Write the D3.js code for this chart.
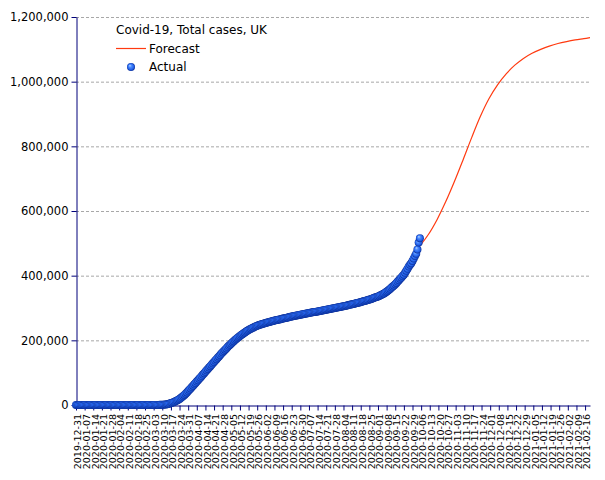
<!DOCTYPE html>
<html>
<head>
<meta charset="utf-8">
<script src="https://cdn.jsdelivr.net/npm/d3@7"></script>
<style>
  html, body { margin: 0; padding: 0; background: #fff; }
  svg { display: block; font-family: "DejaVu Sans", sans-serif; }
</style>
</head>
<body>
<svg id="chart" width="605" height="480"></svg>
<script>
// ---------------- DATA ----------------
const chartTitle = "Covid-19, Total cases, UK";
const seriesNames = ["Forecast", "Actual"];
const actualStart = "2019-12-31";
// Daily cumulative cases, from 2019-12-31 to 2020-10-05
const actualJanDec = [0, // 2019-12-31
  0,0,0,0,0,0,0,0,0,0, 0,0,0,0,0,0,0,0,0,0, 0,0,0,0,0,0,0,0,0,0, 2];   // Jan
const actualFeb = [2,2,2,2,2,2,2,3,3,8, 8,9,9,9,9,9,9,9,9,9, 9,9,9,13,13,15,16,19,23];
const actualMar = [40,55,80,120,170,240,320,420,560,750, 1000,1400,1900,2600,3400,4400,6000,7200,8600,10200,
  12000,14000,16300,18800,21500,24500,27800,31300,35000,39000, 43000];
const actualApr = [47000,51200,55500,59800,64000,68200,72400,76600,80800,85000,
  89500,94000,98500,103000,107300,111600,115900,120200,124500,128800,
  133100,137400,141700,146000,150300,154600,158900,163100,167200,171200];
const actualMay = [175100,179000,182900,186700,190400,194000,197500,200900,204200,207400,
  210500,213500,216400,219200,221900,224500,227000,229400,231700,233900,
  236000,238000,239900,241700,243400,245000,246500,247900,249200,250400, 251500];
const actualJun = [252600,253700,254800,255900,257000,258000,259000,260000,261000,261900,
  262800,263700,264600,265500,266400,267300,268200,269100,270000,270900,
  271800,272700,273600,274500,275400,276200,277000,277800,278600,279400];
const actualJul = [280200,281000,281700,282400,283100,283800,284500,285200,285900,286600,
  287300,288000,288700,289400,290100,290800,291600,292400,293200,294000,
  294800,295600,296400,297200,298000,298700,299400,300100,300900,301700, 302500];
const actualAug = [303300,304000,304700,305500,306300,307100,308000,308900,309700,310500,
  311400,312400,313400,314500,315500,316400,317300,318400,319500,320600,
  321700,322800,323800,324800,326000,327400,328800,330300,331800,333000, 334200];
const actualSep = [335500,337500,339300,341100,343000,345000,347700,350600,353300,356200,
  359600,363200,366200,369600,373600,377600,381600,386000,390400,394300,
  398700,403100,409000,415200,421400,428100,433900,438500,445600,453100];
const actualOct = [460900,467800,481200,502900,516000];

// Forecast (weekly readings), from 2020-10-05 to 2021-02-20
const forecastDates = ["2020-10-05","2020-10-12","2020-10-19","2020-10-26","2020-11-02","2020-11-09",
  "2020-11-16","2020-11-23","2020-11-30","2020-12-07","2020-12-14","2020-12-21","2020-12-28",
  "2021-01-04","2021-01-11","2021-01-18","2021-01-25","2021-02-01","2021-02-08","2021-02-15","2021-02-20"];
const forecastValues = [492000,528000,574000,629000,691000,758000,
  827000,892000,947000,990000,1024000,1051000,1072000,
  1088000,1100000,1110000,1118000,1124000,1129000,1133000,1136000];

const yTicks = [0,200000,400000,600000,800000,1000000,1200000];
const xTickFirst = "2019-12-31", xTickLast = "2021-02-16", xDomainEnd = "2021-02-20";

// ---------------- CHART ----------------
const parse = d3.utcParse("%Y-%m-%d");
const fmtDate = d3.utcFormat("%Y-%m-%d");
const actualValues = [].concat(actualJanDec, actualFeb, actualMar, actualApr, actualMay,
  actualJun, actualJul, actualAug, actualSep, actualOct);
const t0 = parse(actualStart);
const actual = actualValues.map((v, i) => ({ date: d3.utcDay.offset(t0, i), value: v }));
const forecast = forecastDates.map((d, i) => ({ date: parse(d), value: forecastValues[i] }));
const xTickValues = d3.utcDay.range(parse(xTickFirst), d3.utcDay.offset(parse(xTickLast), 1), 7);

const L = 76, R = 590, T = 17, B = 405;
const svg = d3.select("#chart");
const x = d3.scaleUtc().domain([parse(xTickFirst), parse(xDomainEnd)]).range([L, R]);
const y = d3.scaleLinear().domain([0, 1200000]).range([B, T]);
const axisColor = "#00007a";

const defs = svg.append("defs");
const grad = defs.append("radialGradient").attr("id", "ball")
  .attr("cx", "50%").attr("cy", "50%").attr("r", "50%").attr("fx", "35%").attr("fy", "30%");
grad.append("stop").attr("offset", "0%").attr("stop-color", "#b6d4ff");
grad.append("stop").attr("offset", "35%").attr("stop-color", "#4d8dff");
grad.append("stop").attr("offset", "75%").attr("stop-color", "#2260e8");
grad.append("stop").attr("offset", "100%").attr("stop-color", "#0a2f9a");

// gridlines
svg.append("g").selectAll("line").data(yTicks.filter(v => v > 0)).join("line")
  .attr("x1", L).attr("x2", R).attr("y1", d => y(d) + 0.5).attr("y2", d => y(d) + 0.5)
  .attr("stroke", "#a8a8a8").attr("stroke-width", 1).attr("stroke-dasharray", "3,2");

// y axis
const gy = svg.append("g").attr("transform", `translate(${L + 0.5},0)`)
  .call(d3.axisLeft(y).tickValues(yTicks).tickFormat(d3.format(",")).tickSize(5).tickSizeOuter(0).tickPadding(3));
gy.select(".domain").attr("stroke", axisColor);
gy.selectAll(".tick line").attr("stroke", axisColor);
gy.selectAll(".tick text").attr("fill", "#000").style("font-size", "11.5px").style("font-family", "DejaVu Sans");

// x axis
const gx = svg.append("g").attr("transform", `translate(0,${B + 0.5})`)
  .call(d3.axisBottom(x).tickValues(xTickValues).tickFormat(fmtDate).tickSize(5).tickSizeOuter(0));
gx.select(".domain").attr("stroke", axisColor);
gx.selectAll(".tick line").attr("stroke", axisColor);
gx.selectAll(".tick text").attr("fill", "#000")
  .style("font-size", "9.5px").style("font-family", "DejaVu Sans")
  .attr("transform", "rotate(-90)").attr("text-anchor", "end")
  .attr("x", -8.5).attr("y", 0).attr("dy", "0.5em");

// forecast line
const line = d3.line().x(d => x(d.date)).y(d => y(d.value)).curve(d3.curveCatmullRom.alpha(0.5));
svg.append("path").datum(forecast).attr("d", line)
  .attr("fill", "none").attr("stroke", "#ff3a10").attr("stroke-width", 1.2);

// actual points
svg.append("g").selectAll("circle").data(actual).join("circle")
  .attr("cx", d => x(d.date)).attr("cy", d => y(d.value)).attr("r", 4)
  .attr("fill", "url(#ball)");

// legend
const lg = svg.append("g").style("font-family", "DejaVu Sans").style("font-size", "12px");
lg.append("text").attr("x", 116).attr("y", 34).text(chartTitle);
lg.append("line").attr("x1", 116).attr("x2", 146).attr("y1", 48.5).attr("y2", 48.5)
  .attr("stroke", "#ff3a10").attr("stroke-width", 1.2);
lg.append("text").attr("x", 149).attr("y", 53).text(seriesNames[0]);
lg.append("circle").attr("cx", 131).attr("cy", 67).attr("r", 4).attr("fill", "url(#ball)");
lg.append("text").attr("x", 149).attr("y", 71).text(seriesNames[1]);
</script>
</body>
</html>
